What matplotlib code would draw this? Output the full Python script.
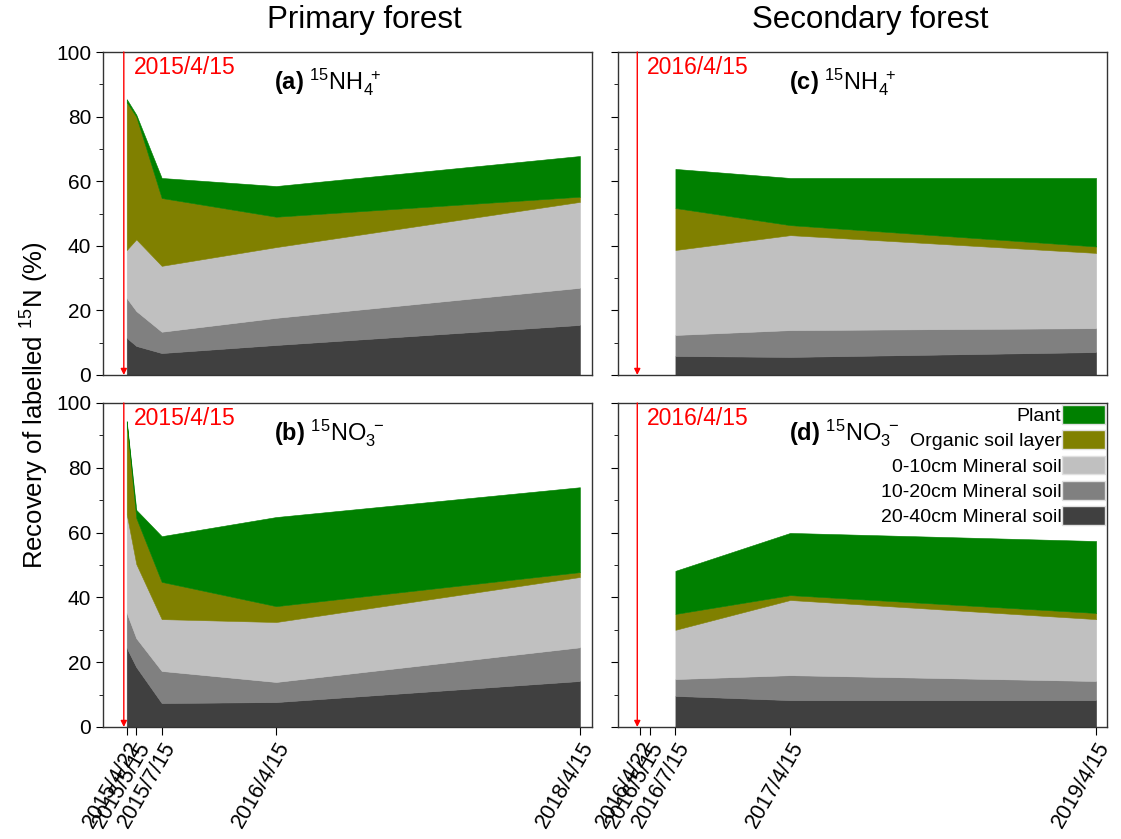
import numpy as np
import matplotlib
matplotlib.use("Agg")
import matplotlib.pyplot as plt
from matplotlib.patches import Patch
from matplotlib.ticker import MultipleLocator

plt.rcParams['font.family'] = ['Liberation Sans', 'DejaVu Sans']
plt.rcParams['mathtext.fontset'] = 'custom'
plt.rcParams['mathtext.rm'] = 'Liberation Sans'
plt.rcParams['mathtext.it'] = 'Liberation Sans:italic'
plt.rcParams['mathtext.bf'] = 'Liberation Sans:bold'

# sampling dates
dates_primary = np.array(['2015-04-22', '2015-05-15', '2015-07-15', '2016-04-15', '2018-04-15'], dtype='datetime64[D]')
dates_secondary = np.array(['2016-07-15', '2017-04-15', '2019-04-15'], dtype='datetime64[D]')
ticks_primary = ['2015-04-22', '2015-05-15', '2015-07-15', '2016-04-15', '2018-04-15']
ticks_secondary = ['2016-04-22', '2016-05-15', '2016-07-15', '2017-04-15', '2019-04-15']
labelling = {'primary': '2015-04-15', 'secondary': '2016-04-15'}

layers = ['20-40cm Mineral soil', '10-20cm Mineral soil', '0-10cm Mineral soil',
          'Organic soil layer', 'Plant']
colors = ['#404040', '#808080', '#c0c0c0', '#808000', '#008000']

# recovery (%) of each pool, bottom -> top
a_nh4 = [[11.5, 9.0, 6.8, 9.3, 15.5],
         [12.3, 10.8, 6.6, 8.4, 11.5],
         [14.9, 22.2, 20.4, 21.9, 26.6],
         [45.8, 38.0, 21.0, 9.4, 1.6],
         [0.9, 0.6, 6.2, 9.5, 12.6]]
b_no3 = [[24.4, 18.5, 7.4, 7.7, 14.2],
         [10.8, 8.9, 9.9, 6.2, 10.4],
         [30.5, 22.9, 16.0, 18.5, 21.7],
         [28.1, 14.2, 11.5, 4.9, 1.5],
         [0.6, 2.5, 14.1, 27.5, 26.2]]
c_nh4 = [[5.9, 5.6, 7.1],
         [6.5, 8.3, 7.4],
         [26.3, 29.4, 23.3],
         [13.0, 3.1, 2.0],
         [12.1, 14.6, 21.2]]
d_no3 = [[9.6, 8.3, 8.3],
         [5.2, 7.7, 5.9],
         [15.2, 23.2, 19.1],
         [4.9, 1.5, 1.9],
         [13.3, 19.2, 22.2]]

fig = plt.figure(figsize=(11.21, 8.39), dpi=100)
W, H = 1121, 839
def add_ax(l, t, r, b):
    return fig.add_axes([l / W, 1 - b / H, (r - l) / W, (b - t) / H])

ax_a = add_ax(103, 52, 592, 375)
ax_b = add_ax(103, 403, 592, 727)
ax_c = add_ax(618, 52, 1107, 375)
ax_d = add_ax(618, 403, 1107, 727)

panels = [
    (ax_a, dates_primary, a_nh4, 'primary', r'$\bf{(a)}$ $^{15}$NH$_4^{\,\,+}$', False),
    (ax_b, dates_primary, b_no3, 'primary', r'$\bf{(b)}$ $^{15}$NO$_3^{\,\,-}$', True),
    (ax_c, dates_secondary, c_nh4, 'secondary', r'$\bf{(c)}$ $^{15}$NH$_4^{\,\,+}$', False),
    (ax_d, dates_secondary, d_no3, 'secondary', r'$\bf{(d)}$ $^{15}$NO$_3^{\,\,-}$', True),
]

for ax, x, vals, forest, label, bottom_row in panels:
    base = np.zeros(len(x))
    for v, c in zip(vals, colors):
        top = base + np.array(v)
        ax.fill_between(x, base, top, facecolor=c, edgecolor=c, linewidth=0.4)
        base = top

    lab = np.datetime64(labelling[forest])
    if forest == 'primary':
        ax.set_xlim(lab - np.timedelta64(50, 'D'), np.datetime64('2018-04-15') + np.timedelta64(29, 'D'))
        ticks = ticks_primary
    else:
        ax.set_xlim(lab - np.timedelta64(46, 'D'), np.datetime64('2019-04-15') + np.timedelta64(26, 'D'))
        ticks = ticks_secondary
    ax.set_ylim(0, 100)

    ax.annotate('', xy=(lab, 0), xytext=(lab, 100),
                arrowprops=dict(arrowstyle='-|>', color='red', lw=1.0,
                                mutation_scale=9, shrinkA=0, shrinkB=0))
    ax.annotate(labelling[forest].replace('-0', '/').replace('-', '/'),
                xy=(lab, 100), xytext=(7, -3), textcoords='offset points',
                ha='left', va='top', color='red', fontsize=16.5)
    ax.text(0.35, 0.955, label, transform=ax.transAxes, ha='left', va='top', fontsize=17)

    ax.yaxis.set_major_locator(MultipleLocator(20))
    ax.yaxis.set_minor_locator(MultipleLocator(10))
    ax.tick_params(axis='y', which='major', direction='out', length=5, labelsize=15)
    ax.tick_params(axis='y', which='minor', direction='out', length=3)
    if forest == 'secondary':
        ax.tick_params(axis='y', labelleft=False)

    tick_dates = np.array(ticks, dtype='datetime64[D]')
    ax.set_xticks(tick_dates)
    if bottom_row:
        ax.set_xticklabels([t.replace('-0', '/').replace('-', '/') for t in ticks],
                           rotation=60, ha='right', rotation_mode='anchor', fontsize=15.5)
        ax.tick_params(axis='x', direction='out', length=6, pad=2)
    else:
        ax.tick_params(axis='x', length=0, labelbottom=False)

    for s in ax.spines.values():
        s.set_color('#333333')
        s.set_linewidth(1.0)

handles = [Patch(facecolor=c, edgecolor='#e0e0e0', linewidth=1.0) for c in colors][::-1]
leg = ax_d.legend(handles, layers[::-1], loc='upper right', frameon=False,
                  markerfirst=False, fontsize=14, handlelength=2.2, handleheight=1.1,
                  handletextpad=0.05, labelspacing=0.28, borderaxespad=0.0,
                  borderpad=0.1)
for t in leg.get_texts():
    t.set_ha('right')

fig.text(364 / W, 1 - 20 / H, 'Primary forest', ha='center', va='center', fontsize=22.5)
fig.text(870 / W, 1 - 20 / H, 'Secondary forest', ha='center', va='center', fontsize=22.5)
fig.text(35 / W, 1 - 405 / H, r'Recovery of labelled $^{15}$N (%)', rotation=90,
         ha='center', va='center', fontsize=18.5)

fig.savefig('out.png', dpi=100)
